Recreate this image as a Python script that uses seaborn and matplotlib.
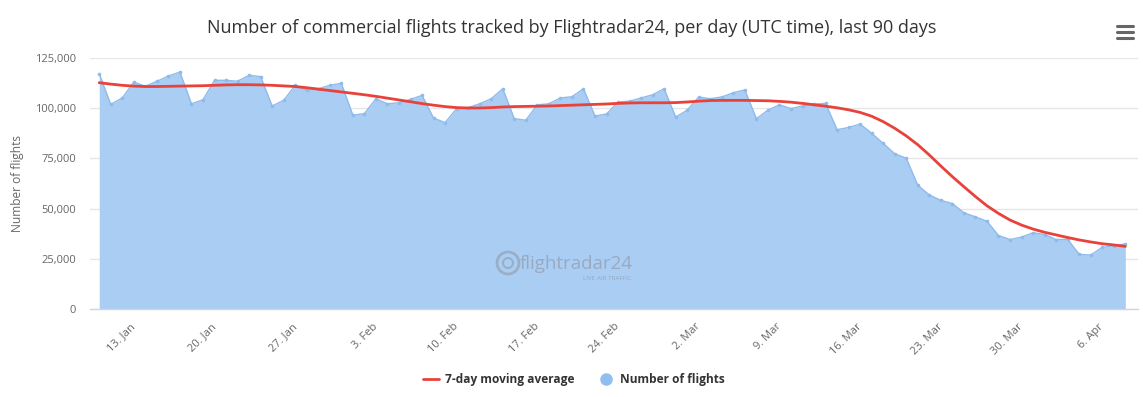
import numpy as np
import pandas as pd
import matplotlib
matplotlib.use("Agg")
import matplotlib.pyplot as plt
import seaborn as sns
from matplotlib.lines import Line2D
from matplotlib.patches import Circle

# ---------------- data ----------------
start_date = "2020-01-10"

flights = [
    117200, 101900, 105100, 113000, 110900, 113400, 116000, 118000,
    102200, 104200, 113900, 113900, 113400, 116400, 115700,
    101100, 103900, 111400, 108900, 109700, 111400, 112400,
    96500, 97300, 104700, 102200, 102700, 104400, 106400,
    95100, 92800, 99800, 100300, 102200, 104700, 109700,
    94800, 94000, 101700, 102200, 105100, 105700, 109700,
    96100, 97100, 103100, 103500, 105100, 106700, 109700,
    95600, 99000, 105600, 104700, 105600, 107700, 109100,
    94800, 99000, 101700, 99800, 101100, 102100, 102400,
    89300, 90400, 92100, 87500, 82500, 77300, 75100,
    61600, 56800, 54100, 52500, 47900, 45900, 43700,
    36600, 34600, 35800, 38000, 37100, 34600, 34700,
    27200, 26900, 30700, 31500, 32400,
]

moving_avg = [
    112700, 112000, 111400, 111000, 110800, 110800, 110900, 111000, 111100, 111200,
    111400, 111600, 111700, 111700, 111600, 111400, 111100, 110800, 110200, 109500,
    108800, 108100, 107400, 106700, 105900, 105000, 104100, 103200, 102300, 101500,
    100800, 100300, 100100, 100100, 100300, 100600, 100800, 100900, 101000, 101100,
    101300, 101500, 101700, 101900, 102100, 102400, 102600, 102700, 102700, 102700,
    102800, 103100, 103500, 103800, 103900, 103900, 103900, 103800, 103700, 103400,
    103000, 102400, 101700, 101000, 100200, 99200, 97900, 96000, 93300, 90000,
    86200, 81800, 76700, 71200, 65900, 60900, 56000, 51400, 47600, 44300,
    41800, 39800, 38200, 36900, 35600, 34400, 33400, 32500, 31900, 31200,
]

tick_dates = ["2020-01-13", "2020-01-20", "2020-01-27", "2020-02-03", "2020-02-10",
              "2020-02-17", "2020-02-24", "2020-03-02", "2020-03-09", "2020-03-16",
              "2020-03-23", "2020-03-30", "2020-04-06"]
tick_labels = ["13. Jan", "20. Jan", "27. Jan", "3. Feb", "10. Feb", "17. Feb",
               "24. Feb", "2. Mar", "9. Mar", "16. Mar", "23. Mar", "30. Mar", "6. Apr"]

y_ticks = [0, 25000, 50000, 75000, 100000, 125000]
y_tick_labels = ["0", "25,000", "50,000", "75,000", "100,000", "125,000"]

title = "Number of commercial flights tracked by Flightradar24, per day (UTC time), last 90 days"
y_title = "Number of flights"
legend_labels = ["7-day moving average", "Number of flights"]

# ---------------- figure ----------------
dates = pd.date_range(start_date, periods=len(flights), freq="D")
df = pd.DataFrame({"date": dates, "flights": flights, "ma": moving_avg})

sns.set_style("white")
plt.rcParams["font.family"] = ["Open Sans", "DejaVu Sans"]

W, H = 1143, 397
fig = plt.figure(figsize=(W / 100, H / 100), dpi=100)
fig.patch.set_facecolor("white")
ax = fig.add_axes([90 / W, 88 / H, 1048 / W, 251 / H])

fill_color = "#aacdf4"
line_blue = "#8fbbea"
red = "#e8423b"

ax.fill_between(df["date"], df["flights"], color=fill_color, lw=0, zorder=1)
sns.lineplot(data=df, x="date", y="flights", ax=ax, color=line_blue, lw=1,
             marker="o", markersize=2.6, markeredgewidth=0, zorder=2)
sns.lineplot(data=df, x="date", y="ma", ax=ax, color=red, lw=2, zorder=3)

ax.set_xlim(dates[0] - pd.Timedelta(days=0.8), dates[-1] + pd.Timedelta(days=1.1))
ax.set_ylim(0, 125000)

ax.set_yticks(y_ticks)
ax.set_yticklabels(y_tick_labels)
ax.set_xticks(pd.to_datetime(tick_dates))
ax.set_xticklabels(tick_labels, rotation=45, ha="right", va="center",
                   rotation_mode="anchor")

ax.yaxis.grid(True, color="#e6e6e6", lw=1)
ax.xaxis.grid(False)
ax.set_axisbelow(True)
for s in ["left", "top", "right"]:
    ax.spines[s].set_visible(False)
ax.spines["bottom"].set_color("#ccd6eb")
ax.spines["bottom"].set_linewidth(1)

ax.tick_params(axis="x", length=7.5, width=1, color="#ccd6eb", labelcolor="#666666",
               labelsize=8, pad=4)
ax.tick_params(axis="y", length=0, labelsize=8, labelcolor="#666666", pad=10)
ax.set_xlabel("")
ax.set_ylabel("")

fig.text(18 / W, 1 - 183 / H, y_title, rotation=90, ha="center", va="center",
         fontsize=8.6, color="#666666")
fig.text(572 / W, 1 - 28 / H, title, ha="center", va="center", fontsize=13,
         color="#333333")

# menu icon
for yy in [26, 32, 38]:
    fig.add_artist(Line2D([1117 / W, 1133 / W], [1 - yy / H, 1 - yy / H],
                          color="#666666", lw=2.2, solid_capstyle="round"))

# watermark (pixel-based placement via inches transform)
wm = "#95a1b4"
fig.add_artist(Circle((508 / 100, (H - 263) / 100), 0.11, transform=fig.dpi_scale_trans,
                      fill=False, ec=wm, lw=2, alpha=0.7, zorder=5))
fig.add_artist(Circle((508 / 100, (H - 263) / 100), 0.05, transform=fig.dpi_scale_trans,
                      fill=False, ec=wm, lw=1.5, alpha=0.7, zorder=5))
fig.text(520 / W, 1 - 264 / H, "flightradar24", ha="left", va="center",
         fontsize=13.5, color=wm, alpha=0.8, zorder=5)
fig.text(632 / W, 1 - 279 / H, "LIVE AIR TRAFFIC", ha="right", va="center",
         fontsize=4.5, color=wm, alpha=0.85, zorder=5)

# legend
handles = [Line2D([0], [0], color=red, lw=2),
           Line2D([0], [0], color="#90bef0", lw=0, marker="o", markersize=8)]
leg = fig.legend(handles, legend_labels, loc="center", bbox_to_anchor=(574 / W, 1 - 380 / H),
                 ncol=2, frameon=False, handlelength=1.3, handletextpad=0.5,
                 columnspacing=2.0, prop={"weight": "bold", "size": 8.6})
for t in leg.get_texts():
    t.set_color("#333333")

fig.savefig("out.png", dpi=100, facecolor="white")
